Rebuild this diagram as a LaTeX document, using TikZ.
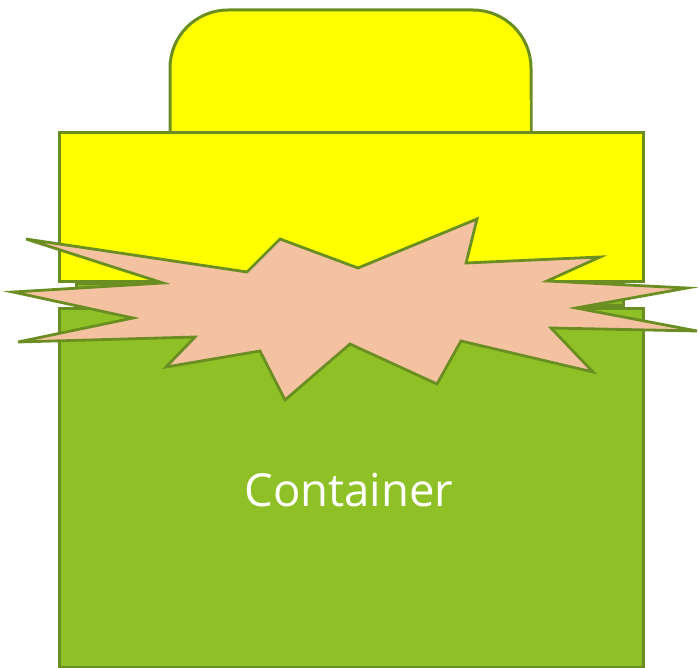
\documentclass[tikz,border=0pt]{standalone}
\usepackage{fontspec}
\setmainfont{Open Sans}
\definecolor{lineol}{HTML}{6B8E23}
\definecolor{lidyel}{HTML}{FFFF00}
\definecolor{boxgrn}{HTML}{8FC126}
\definecolor{peach}{HTML}{F4C2A1}
\tikzset{
  part/.style={draw=lineol, line width=3pt, line join=miter},
}
\begin{document}
\begin{tikzpicture}[x=1pt,y=-1pt]
\useasboundingbox (0,0) rectangle (698,668);
% rounded top
\draw[part, fill=lidyel, rounded corners=58pt] (170,140) -- (170,10) -- (531,10) -- (531,140);
\fill[lidyel] (171.5,100) rectangle (529.5,140);
% lid
\node[part, fill=lidyel, inner sep=0pt, minimum width=584pt, minimum height=149pt, anchor=north west] (lid) at (58,131) {};
% thin band
\node[part, fill=boxgrn!80!lineol, inner sep=0pt, minimum width=547pt, minimum height=22pt, anchor=north west] (band) at (75,282) {};
% container
\node[part, fill=boxgrn, inner sep=0pt, minimum width=584pt, minimum height=359pt, anchor=north west] (box) at (58,307) {};
% burst
\draw[part, fill=peach, line width=2.8pt]
  (26,239) -- (247,272) -- (280,239) -- (358,268) -- (477,219) -- (466,263)
  -- (600,257) -- (547,281) -- (687,288) -- (576,308) -- (697,331) -- (551,328)
  -- (593,372) -- (461,341) -- (437,384) -- (350,344) -- (285,400) -- (260,351)
  -- (166,367) -- (195,337) -- (18,342) -- (133,318) -- (13,292) -- (163,283) -- cycle;
\node[text=white, font=\fontsize{45.5}{50}\selectfont, inner sep=0pt] (label) at (349,490) {Container};
\end{tikzpicture}
\end{document}
